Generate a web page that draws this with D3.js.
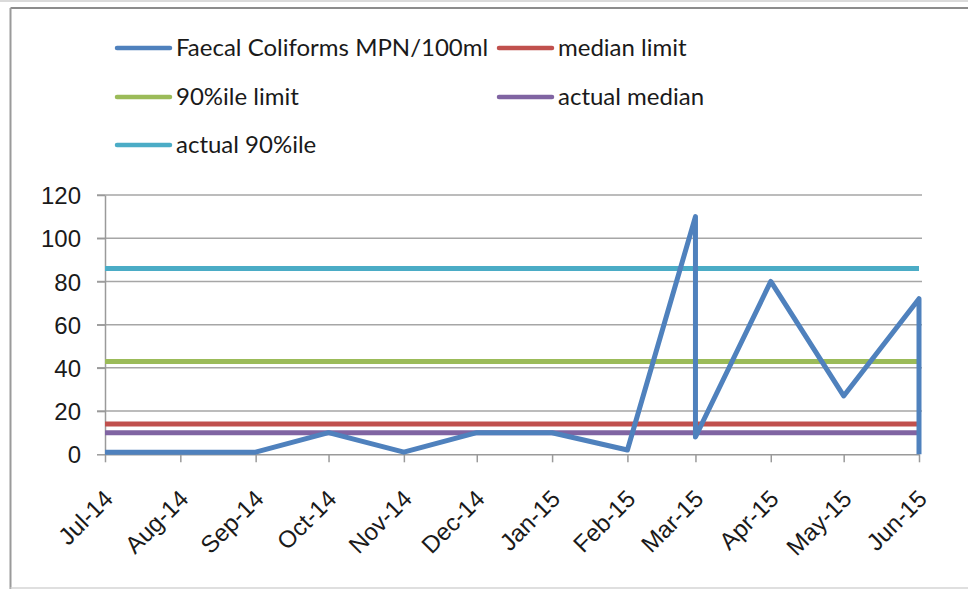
<!DOCTYPE html>
<meta charset="utf-8">
<style>
body { margin: 0; background: #fff; }
svg { display: block; font-family: Lato, "Open Sans", sans-serif; }
.grid line { stroke: #a6a6a6; stroke-width: 1.5px; }
.axis path, .axis line { stroke: #9a9a9a; stroke-width: 1.5px; }
.axis text { fill: #1a1a1a; font-size: 24px; }
.legend text { fill: #1a1a1a; font-size: 24px; }
.series { fill: none; stroke-width: 5px; stroke-linejoin: round; }
</style>
<svg width="968" height="589"></svg>
<script src="https://d3js.org/d3.v7.min.js"></script>
<script>

// tick labels on the date axis (first of each month)
var monthTicks = ["2014-07-01","2014-08-01","2014-09-01","2014-10-01","2014-11-01","2014-12-01",
                  "2015-01-01","2015-02-01","2015-03-01","2015-04-01","2015-05-01","2015-06-01"];

// sample dates and counts (two samples fall on Mar-15 and Jun-15)
var sampleDates = ["2014-07-01","2014-08-01","2014-09-01","2014-10-01","2014-11-01","2014-12-01",
                   "2015-01-01","2015-02-01","2015-03-01","2015-03-01","2015-04-01","2015-05-01",
                   "2015-06-01","2015-06-01"];
var faecal = [1, 1, 1, 10, 1, 10, 10, 2, 110, 8, 80, 27, 72, 0];

var medianLimit = 14;
var pct90Limit = 43;
var actualMedian = 10;
var actual90 = 86;

var yTicks = [0, 20, 40, 60, 80, 100, 120];

var seriesNames = ["Faecal Coliforms MPN/100ml", "median limit", "90%ile limit", "actual median", "actual 90%ile"];
var seriesColors = ["#4f81bd", "#c0504d", "#9bbb59", "#8064a2", "#4bacc6"];

var parseDate = d3.timeParse("%Y-%m-%d"),
    fmt = d3.timeFormat("%b-%y");

var svg = d3.select("svg"),
    W = +svg.attr("width"),
    H = +svg.attr("height");

// chart frame
svg.append("rect").attr("x", 0).attr("y", 0).attr("width", W).attr("height", 2).attr("fill", "#dadada");
svg.append("line").attr("x1", 10.5).attr("x2", W).attr("y1", 8).attr("y2", 8)
    .attr("stroke", "#8c8c8c").attr("stroke-width", 2);
svg.append("line").attr("x1", 10.5).attr("x2", 10.5).attr("y1", 8).attr("y2", H)
    .attr("stroke", "#9a9a9a").attr("stroke-width", 2);
svg.append("line").attr("x1", 10.5).attr("x2", W).attr("y1", 588).attr("y2", 588)
    .attr("stroke", "#d4d4d4").attr("stroke-width", 1.5);

var plotLeft = 105, plotRight = 919, plotTop = 195, plotBottom = 454.3;

var x = d3.scaleTime()
    .domain([parseDate(monthTicks[0]), parseDate(monthTicks[monthTicks.length - 1])])
    .range([plotLeft, plotRight]);

var y = d3.scaleLinear().domain([0, 120]).range([plotBottom, plotTop]);

// gridlines
svg.append("g")
    .attr("class", "grid")
  .selectAll("line")
  .data(yTicks.slice(1))
  .enter().append("line")
    .attr("x1", plotLeft - 8).attr("x2", plotRight + 3)
    .attr("y1", function(d) { return y(d); })
    .attr("y2", function(d) { return y(d); });

// y axis
var yAxis = svg.append("g")
    .attr("class", "axis")
    .attr("transform", "translate(" + plotLeft + ",0)")
    .call(d3.axisLeft(y).tickValues(yTicks).tickSize(8).tickSizeOuter(0).tickPadding(16));
yAxis.selectAll("text").attr("dy", "0.36em");

// x axis
var xAxis = svg.append("g")
    .attr("class", "axis")
    .attr("transform", "translate(0," + plotBottom + ")")
    .call(d3.axisBottom(x).tickValues(monthTicks.map(parseDate)).tickFormat(fmt)
          .tickSize(8).tickSizeOuter(0));
xAxis.selectAll("text")
    .attr("text-anchor", "end")
    .attr("dy", null)
    .attr("y", 0)
    .attr("transform", "translate(9,46) rotate(-45)");

// horizontal reference lines
var refs = [
  {name: seriesNames[1], value: medianLimit, color: seriesColors[1]},
  {name: seriesNames[2], value: pct90Limit, color: seriesColors[2]},
  {name: seriesNames[3], value: actualMedian, color: seriesColors[3]},
  {name: seriesNames[4], value: actual90, color: seriesColors[4]}
];

svg.selectAll(".ref")
  .data(refs)
  .enter().append("line")
    .attr("class", "series ref")
    .attr("x1", x.range()[0]).attr("x2", x.range()[1])
    .attr("y1", function(d) { return y(d.value); })
    .attr("y2", function(d) { return y(d.value); })
    .attr("stroke", function(d) { return d.color; });

// faecal coliform line
var pts = sampleDates.map(function(d, i) { return {date: parseDate(d), value: faecal[i]}; });
var line = d3.line()
    .x(function(d) { return x(d.date); })
    .y(function(d) { return y(d.value); });

svg.append("path")
    .datum(pts)
    .attr("class", "series")
    .attr("stroke", seriesColors[0])
    .attr("d", line);

// legend
var legendPos = [[117, 48], [499, 48], [117, 97], [499, 97], [117, 145]];
var legend = svg.append("g").attr("class", "legend")
  .selectAll("g")
  .data(seriesNames)
  .enter().append("g")
    .attr("transform", function(d, i) { return "translate(" + legendPos[i][0] + "," + legendPos[i][1] + ")"; });

legend.append("line")
    .attr("x1", 0).attr("x2", 53)
    .attr("stroke", function(d, i) { return seriesColors[i]; })
    .attr("stroke-width", 4.5)
    .attr("stroke-linecap", "round");

legend.append("text")
    .attr("x", 59)
    .attr("dy", "0.35em")
    .text(function(d) { return d; });

</script>
